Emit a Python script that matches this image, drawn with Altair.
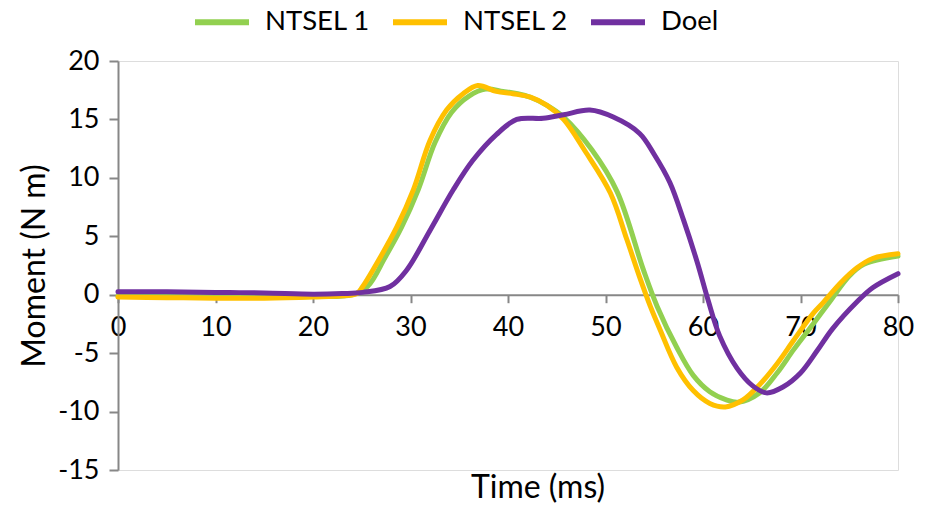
import altair as alt
import pandas as pd

series_names = ["NTSEL 1", "NTSEL 2", "Doel"]
series_colors = ["#92D050", "#FFC000", "#7030A0"]

t_ntsel1 = [0, 5, 10, 15, 20, 24, 25.6, 27.4, 29.1, 30.8, 32.5, 34.2, 36.0, 37.7, 39.5, 41.0, 42.3,
            44.0, 45.7, 48.6, 51.2, 53.9, 55.3, 57.3, 59.0, 60.7, 62.4, 63.6, 65.8, 67.6, 69.3,
            71.3, 73.0, 75.0, 76.5, 80]
m_ntsel1 = [-0.1, -0.15, -0.2, -0.2, -0.15, 0.0, 0.7, 3.2, 5.8, 9.0, 13.0, 15.6, 17.0, 17.6, 17.4, 17.2, 16.9,
            16.2, 15.2, 12.4, 8.8, 2.1, -1.0, -4.5, -6.9, -8.3, -9.0, -9.2, -8.4, -6.7, -4.7,
            -2.5, -0.6, 1.6, 2.6, 3.3]

t_ntsel2 = [0, 5, 10, 15, 20, 23, 24.5, 25.1, 26.9, 28.6, 30.3, 32.0, 33.7, 35.4, 36.9, 38.8, 40.5,
            42.3, 44.0, 45.7, 47.9, 50.5, 52.2, 53.5, 54.6, 55.6, 57.3, 59.0, 60.7, 62.3, 64.1,
            65.8, 67.6, 69.3, 71.3, 72.3, 74.1, 75.8, 77.4, 80]
m_ntsel2 = [-0.2, -0.25, -0.3, -0.3, -0.2, -0.1, 0.1, 0.7, 3.2, 5.8, 9.0, 13.2, 15.8, 17.2, 17.9, 17.4, 17.2,
            16.9, 16.2, 15.0, 12.3, 8.7, 4.7, 1.5, -1.0, -3.0, -6.2, -8.2, -9.3, -9.6, -9.0,
            -7.7, -5.9, -3.9, -1.6, -0.7, 1.0, 2.3, 3.1, 3.5]

t_doel = [0, 5, 10, 15, 20, 23, 25.1, 27.9, 29.6, 32.0, 34.4, 36.4, 38.8, 40.9, 43.6, 45.7, 48.4,
          50.8, 53.5, 55.0, 56.6, 58.0, 59.4, 60.5, 61.7, 63.5, 65.1, 66.5, 68.2, 70.0, 71.7,
          73.3, 75.8, 77.4, 80]
m_doel = [0.25, 0.25, 0.2, 0.15, 0.05, 0.1, 0.2, 0.7, 2.1, 5.5, 9.0, 11.5, 13.7, 15.0, 15.1, 15.4, 15.8,
          15.2, 13.8, 12.0, 9.6, 6.4, 2.8, -0.4, -3.5, -6.3, -7.8, -8.4, -7.9, -6.7, -4.8,
          -2.9, -0.6, 0.6, 1.8]

x_ticks = [0, 10, 20, 30, 40, 50, 60, 70, 80]
y_ticks = [-15, -10, -5, 0, 5, 10, 15, 20]

rows = []
for name, ts, ms in zip(series_names, [t_ntsel1, t_ntsel2, t_doel], [m_ntsel1, m_ntsel2, m_doel]):
    for t, m in zip(ts, ms):
        rows.append({"series": name, "t": t, "m": m})
df = pd.DataFrame(rows)

FONT = "Lato"

chart = alt.Chart(df).mark_line(
    strokeWidth=5, strokeCap="round", strokeJoin="round", interpolate="catmull-rom"
).encode(
    x=alt.X("t:Q",
            scale=alt.Scale(domain=[0, 80], nice=False, zero=False),
            axis=alt.Axis(values=x_ticks, offset=-175.3, title="Time (ms)",
                          titleX=419.5, titleY=203, titleBaseline="alphabetic",
                          titleFontSize=32, titleFont=FONT, titleFontWeight="normal", titleColor="#000",
                          labelFont=FONT, labelFontSize=27, labelColor="#000", labelPadding=12,
                          labelFlush=False, labelOverlap=False,
                          domainColor="#878787", domainWidth=2, tickColor="#878787",
                          tickWidth=2, tickSize=8, grid=False)),
    y=alt.Y("m:Q",
            scale=alt.Scale(domain=[-15, 20], nice=False, zero=False),
            axis=alt.Axis(values=y_ticks, title="Moment (N m)", labelExpr="'' + datum.value",
                          titleX=-74, titleBaseline="alphabetic",
                          titleFontSize=32, titleFont=FONT, titleFontWeight="normal", titleColor="#000",
                          labelFont=FONT, labelFontSize=27, labelColor="#000", labelPadding=10,
                          labelOverlap=False,
                          domainColor="#878787", domainWidth=2, tickColor="#878787",
                          tickWidth=2, tickSize=9, grid=False)),
    color=alt.Color("series:N",
                    scale=alt.Scale(domain=series_names, range=series_colors),
                    sort=series_names,
                    legend=alt.Legend(title=None, orient="none", direction="horizontal",
                                      legendX=74, legendY=-69, padding=0,
                                      symbolType="stroke", symbolSize=2916, symbolStrokeWidth=6,
                                      labelFont=FONT, labelFontSize=27.5, labelColor="#000",
                                      labelOffset=13, columnPadding=10)),
).properties(
    width=780, height=409,
    autosize=alt.AutoSizeParams(type="none"),
    padding={"left": 118, "top": 61, "right": 35, "bottom": 37},
).configure_view(
    stroke="#000", strokeWidth=2
).configure(background="white")

chart.save("out.html", embed_options={"renderer": "svg", "actions": False})
